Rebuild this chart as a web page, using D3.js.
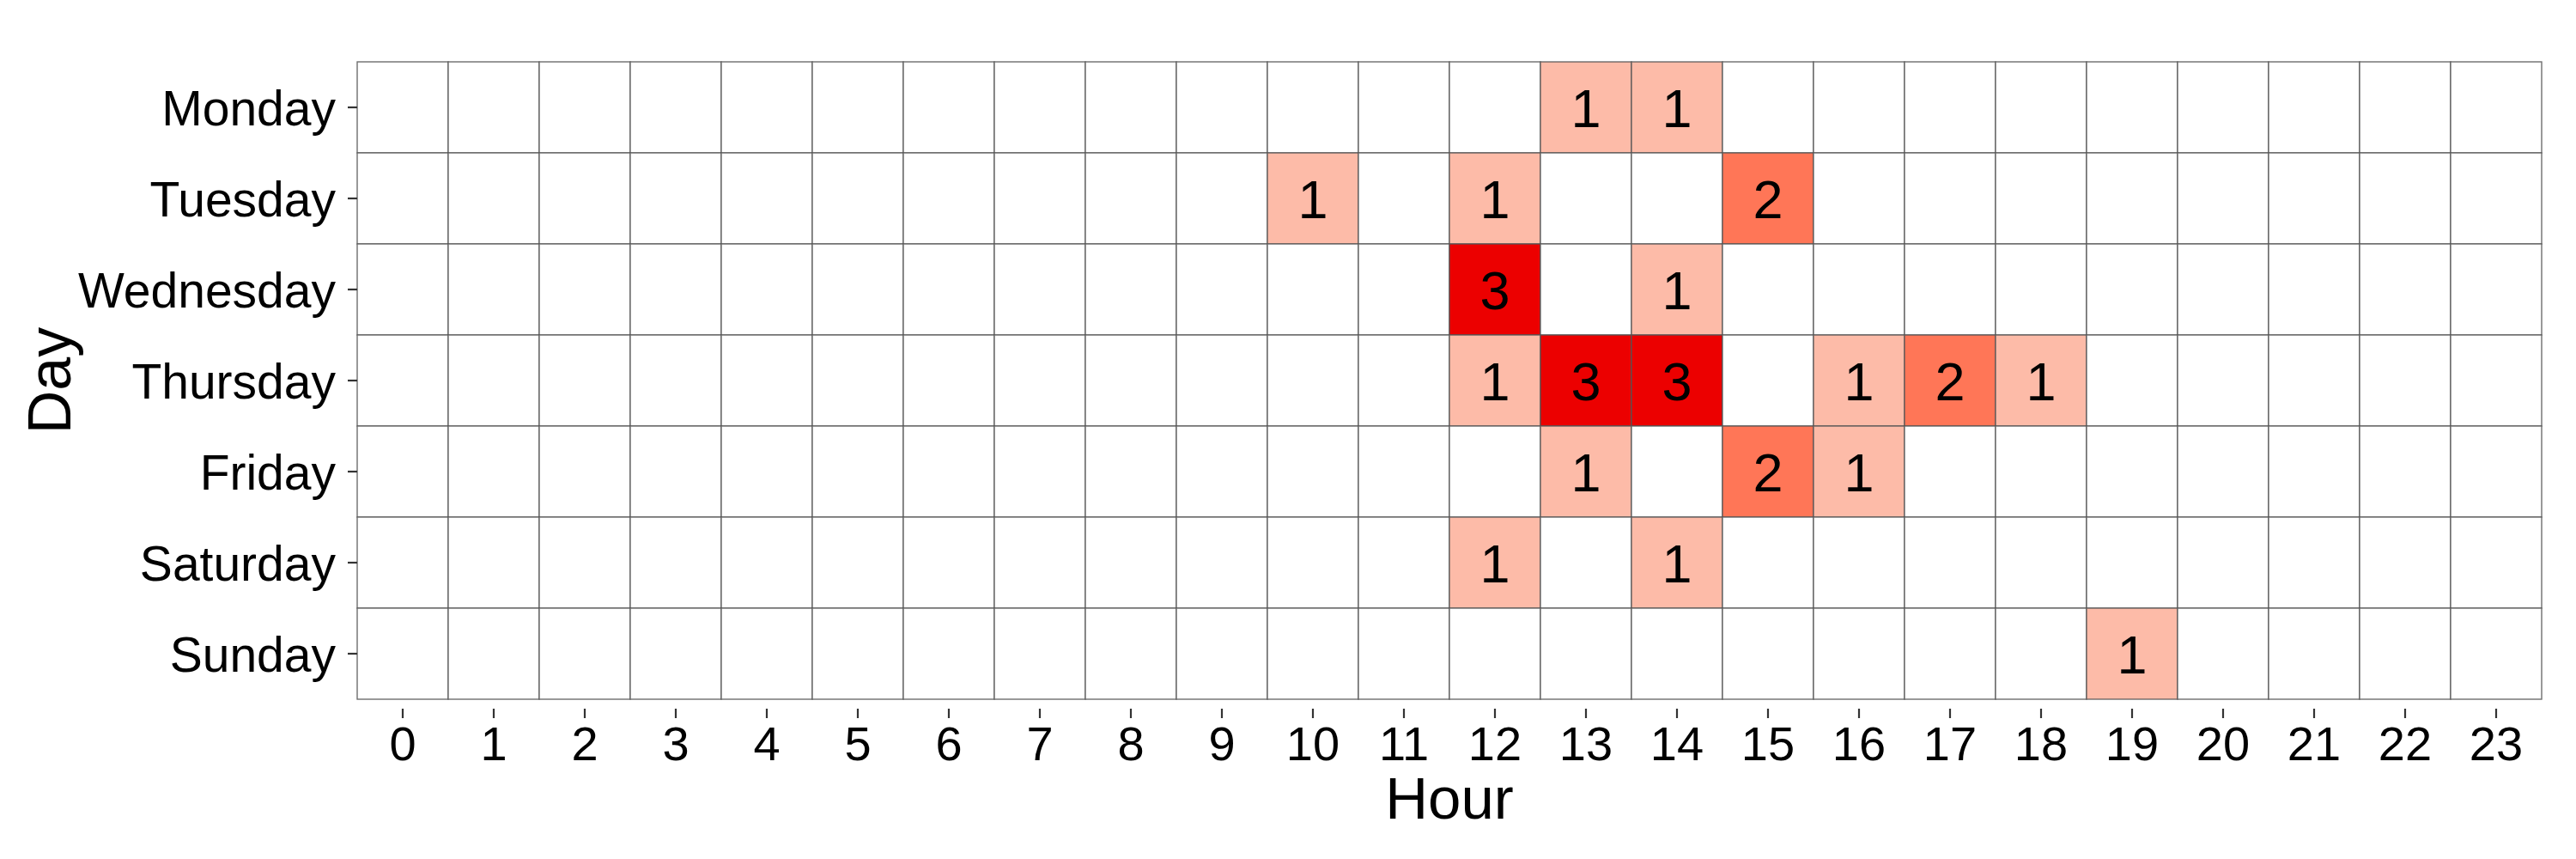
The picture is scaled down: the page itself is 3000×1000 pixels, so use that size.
<!DOCTYPE html>
<html>
<head>
<meta charset="utf-8">
<script src="https://cdn.jsdelivr.net/npm/d3@7"></script>
<style>
  html, body { margin: 0; padding: 0; background: #fff; }
  svg { display: block; }
  text { font-family: "Liberation Sans", Arial, Helvetica, sans-serif; fill: #000; }
</style>
</head>
<body>
<svg id="chart" width="3000" height="1000"></svg>
<script>
// ---- data ----
const days = ["Monday", "Tuesday", "Wednesday", "Thursday", "Friday", "Saturday", "Sunday"];
const hours = ["0","1","2","3","4","5","6","7","8","9","10","11","12","13","14","15","16","17","18","19","20","21","22","23"];
//                 0 1 2 3 4 5 6 7 8 9 10 11 12 13 14 15 16 17 18 19 20 21 22 23
const monday    = [0,0,0,0,0,0,0,0,0,0, 0, 0, 0, 1, 1, 0, 0, 0, 0, 0, 0, 0, 0, 0];
const tuesday   = [0,0,0,0,0,0,0,0,0,0, 1, 0, 1, 0, 0, 2, 0, 0, 0, 0, 0, 0, 0, 0];
const wednesday = [0,0,0,0,0,0,0,0,0,0, 0, 0, 3, 0, 1, 0, 0, 0, 0, 0, 0, 0, 0, 0];
const thursday  = [0,0,0,0,0,0,0,0,0,0, 0, 0, 1, 3, 3, 0, 1, 2, 1, 0, 0, 0, 0, 0];
const friday    = [0,0,0,0,0,0,0,0,0,0, 0, 0, 0, 1, 0, 2, 1, 0, 0, 0, 0, 0, 0, 0];
const saturday  = [0,0,0,0,0,0,0,0,0,0, 0, 0, 1, 0, 1, 0, 0, 0, 0, 0, 0, 0, 0, 0];
const sunday    = [0,0,0,0,0,0,0,0,0,0, 0, 0, 0, 0, 0, 0, 0, 0, 0, 1, 0, 0, 0, 0];
const countLevels = [0, 1, 2, 3];
const levelColors = ["#ffffff", "#fdbba8", "#ff7657", "#ec0000"];

const series = [monday, tuesday, wednesday, thursday, friday, saturday, sunday];
const cells = [];
days.forEach((d, i) => hours.forEach((h, j) => cells.push({ day: d, hour: h, value: series[i][j] })));

// ---- layout ----
const svg = d3.select("#chart");
const mLeft = 416, mRight = 2960, mTop = 72, mBottom = 814;

const x = d3.scaleBand().domain(hours).range([mLeft, mRight]).padding(0);
const y = d3.scaleBand().domain(days).range([mTop, mBottom]).padding(0);
const color = d3.scaleOrdinal().domain(countLevels).range(levelColors);

// tiles
svg.append("g").selectAll("rect").data(cells).join("rect")
  .attr("x", d => x(d.hour))
  .attr("y", d => y(d.day))
  .attr("width", x.bandwidth())
  .attr("height", y.bandwidth())
  .attr("fill", d => color(d.value))
  .attr("stroke", "#555")
  .attr("stroke-opacity", 0.85)
  .attr("stroke-width", 1.4);

// cell labels
svg.append("g").selectAll("text").data(cells.filter(d => d.value > 0)).join("text")
  .attr("x", d => x(d.hour) + x.bandwidth() / 2)
  .attr("y", d => y(d.day) + y.bandwidth() / 2 + 23)
  .attr("text-anchor", "middle")
  .attr("font-size", 63)
  .text(d => d.value);

// y axis
const yAxis = svg.append("g").attr("transform", `translate(${mLeft},0)`)
  .call(d3.axisLeft(y).tickSize(11).tickPadding(14));
yAxis.select(".domain").remove();
yAxis.selectAll(".tick line").attr("stroke", "#333").attr("stroke-width", 2.2);
yAxis.selectAll(".tick text")
  .attr("font-size", 57)
  .attr("fill", "#000")
  .attr("font-family", "Liberation Sans, Arial, sans-serif")
  .attr("dy", "0.36em");

// x axis (offset slightly below panel as in the reference)
const xAxis = svg.append("g").attr("transform", `translate(0,${mBottom + 11})`)
  .call(d3.axisBottom(x).tickSize(11).tickPadding(9));
xAxis.select(".domain").remove();
xAxis.selectAll(".tick line").attr("stroke", "#333").attr("stroke-width", 2.2);
xAxis.selectAll(".tick text")
  .attr("font-size", 56)
  .attr("fill", "#000")
  .attr("font-family", "Liberation Sans, Arial, sans-serif")
  .attr("dy", "0.71em");

// axis titles
svg.append("text")
  .attr("x", (mLeft + mRight) / 2)
  .attr("y", 953)
  .attr("text-anchor", "middle")
  .attr("font-size", 69)
  .text("Hour");

svg.append("text")
  .attr("transform", `translate(82,${(mTop + mBottom) / 2}) rotate(-90)`)
  .attr("text-anchor", "middle")
  .attr("font-size", 70)
  .text("Day");
</script>
</body>
</html>
